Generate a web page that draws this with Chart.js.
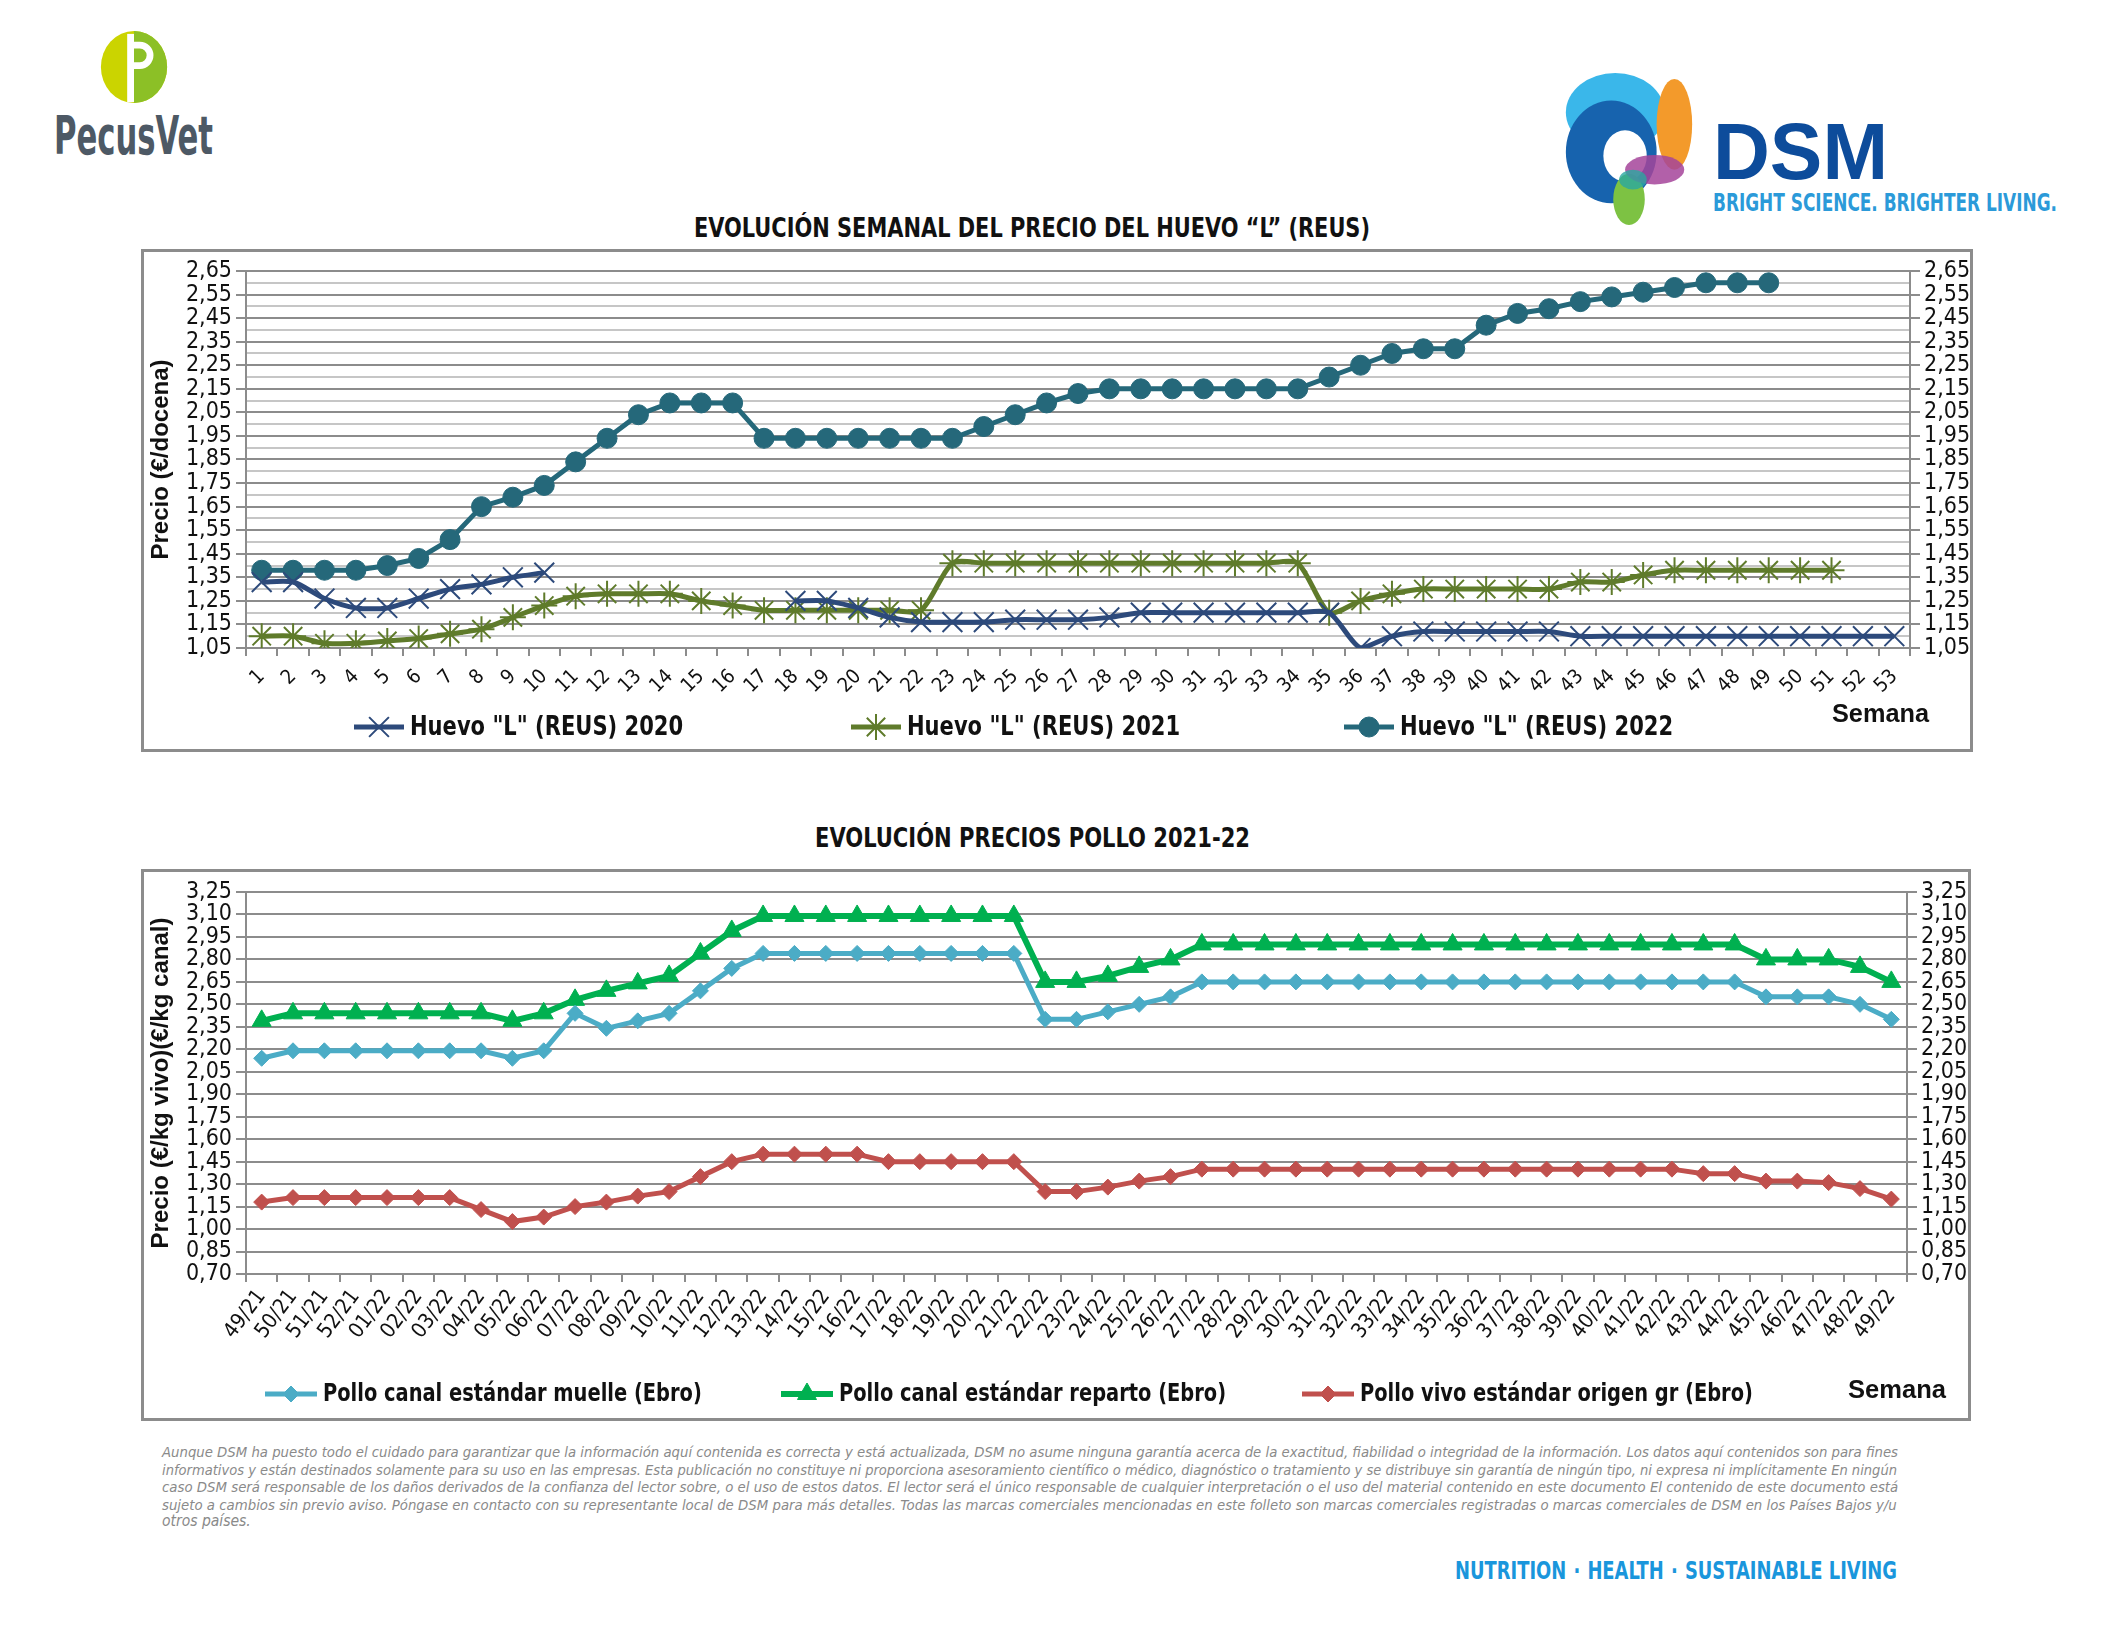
<!DOCTYPE html>
<html>
<head>
<meta charset="utf-8">
<script src="https://cdn.jsdelivr.net/npm/chart.js@4.4.1/dist/chart.umd.min.js"></script>
<style>
  body { margin:0; width:2112px; height:1632px; background:#fff; position:relative; overflow:hidden;
         font-family:"Liberation Sans Narrow","DejaVu Sans Condensed","Liberation Sans",sans-serif; color:#111; }
  .marco { position:absolute; border:3px solid #8c8c8c; box-sizing:border-box; }
  .marco .lienzo { position:absolute; left:0; top:0; right:0; bottom:0; }
  .txt { position:absolute; white-space:nowrap; transform-origin:0 50%; }
  .titulo { font-weight:bold; font-size:26px; }
  .semana { font-family:"Liberation Sans","DejaVu Sans",sans-serif; font-weight:bold; font-size:25px; }
  .aviso { position:absolute; left:162px; top:1443px; width:1737px; color:#8a8a8a; font-style:italic; font-size:15.5px; line-height:17.5px; }
  .aviso div { white-space:nowrap; }
  .lema { color:#1a96dc; font-weight:bold; font-size:25px; }
  .lema span { margin:0 9px; }
</style>
</head>
<body>

<!-- logos -->
<svg style="position:absolute;left:94px;top:30px" width="80" height="74" viewBox="0 0 80 76">
  <ellipse cx="40" cy="38" rx="34" ry="37" fill="#cbd400"/>
  <path d="M40 1 A34 37 0 0 1 40 75 Z" fill="#8cc026"/>
  <rect x="33" y="4" width="7" height="70" fill="#fff"/>
  <path d="M40 12 h6 a14 14 0 0 1 0 28 h-6 v-7 h6 a7 7 0 0 0 0 -14 h-6 z" fill="#fff"/>
</svg>
<div class="txt" data-ancho="159" style="left:54px;top:104px;font-weight:bold;font-size:54px;color:#4d5965">PecusVet</div>

<svg style="position:absolute;left:1556px;top:67px" width="148" height="158" viewBox="0 0 150 160">
  <ellipse cx="60" cy="46" rx="50" ry="40" fill="#3ab7ea"/>
  <ellipse cx="120" cy="58" rx="18" ry="46" fill="#f39a2b"/>
  <ellipse cx="56" cy="86" rx="46" ry="52" fill="#1763ae"/>
  <ellipse cx="70" cy="90" rx="22" ry="26" fill="#fff"/>
  <ellipse cx="74" cy="134" rx="16" ry="26" fill="#7dc243"/>
  <ellipse cx="100" cy="104" rx="30" ry="15" fill="#a4449a" opacity="0.85"/>
  <ellipse cx="78" cy="114" rx="14" ry="10" fill="#2aa7a0" opacity="0.8"/>
</svg>
<div class="txt" data-ancho="175" style="left:1713px;top:106px;font-family:'Liberation Sans',sans-serif;font-weight:bold;font-size:80px;color:#0d4c9b">DSM</div>
<div class="txt" data-ancho="344" style="left:1713px;top:189px;font-weight:bold;font-size:24px;color:#2b9ad9">BRIGHT SCIENCE. BRIGHTER LIVING.</div>

<!-- grafico huevo -->
<div class="txt titulo" data-ancho="676" style="left:694px;top:213px">EVOLUCIÓN SEMANAL DEL PRECIO DEL HUEVO “L” (REUS)</div>
<div class="marco" style="left:141px;top:249px;width:1832px;height:503px">
  <div class="lienzo"><canvas id="graficoHuevo"></canvas></div>
</div>
<div class="txt semana" data-ancho="97" style="left:1832px;top:699px">Semana</div>

<!-- grafico pollo -->
<div class="txt titulo" data-ancho="435" style="left:815px;top:823px">EVOLUCIÓN PRECIOS POLLO 2021-22</div>
<div class="marco" style="left:141px;top:869px;width:1830px;height:552px">
  <div class="lienzo"><canvas id="graficoPollo"></canvas></div>
</div>
<div class="txt semana" data-ancho="98" style="left:1848px;top:1375px">Semana</div>

<div class="aviso" id="aviso">
  <div>Aunque DSM ha puesto todo el cuidado para garantizar que la información aquí contenida es correcta y está actualizada, DSM no asume ninguna garantía acerca de la exactitud, fiabilidad o integridad de la información. Los datos aquí contenidos son para fines</div>
  <div>informativos y están destinados solamente para su uso en las empresas. Esta publicación no constituye ni proporciona asesoramiento científico o médico, diagnóstico o tratamiento y se distribuye sin garantía de ningún tipo, ni expresa ni implícitamente En ningún</div>
  <div>caso DSM será responsable de los daños derivados de la confianza del lector sobre, o el uso de estos datos. El lector será el único responsable de cualquier interpretación o el uso del material contenido en este documento El contenido de este documento está</div>
  <div>sujeto a cambios sin previo aviso. Póngase en contacto con su representante local de DSM para más detalles. Todas las marcas comerciales mencionadas en este folleto son marcas comerciales registradas o marcas comerciales de DSM en los Países Bajos y/u</div>
  <div class="ultima">otros países.</div>
</div>
<div class="txt lema" data-ancho="442" style="left:1455px;top:1556px">NUTRITION<span>·</span>HEALTH<span>·</span>SUSTAINABLE LIVING</div>

<script>
// ---- datos: huevo (€/docena) por semana ----
const semanasHuevo = ['1','2','3','4','5','6','7','8','9','10','11','12','13','14','15','16','17','18','19','20',
  '21','22','23','24','25','26','27','28','29','30','31','32','33','34','35','36','37','38','39','40',
  '41','42','43','44','45','46','47','48','49','50','51','52','53'];

const huevo2020 = [1.33,1.33,1.26,1.22,1.22,1.26,1.30,1.32,1.35,1.37,
  null,null,null,null,null,null,null,
  1.25,1.25,1.22,1.18,1.16,1.16,1.16,1.17,1.17,1.17,1.18,
  1.20,1.20,1.20,1.20,1.20,1.20,1.20,1.05,1.10,
  1.12,1.12,1.12,1.12,1.12,
  1.10,1.10,1.10,1.10,1.10,1.10,1.10,1.10,1.10,1.10,1.10];

const huevo2021 = [1.10,1.10,1.07,1.07,1.08,1.09,1.11,1.13,1.18,1.23,
  1.27,1.28,1.28,1.28,1.25,1.23,1.21,1.21,1.21,1.21,1.21,1.21,
  1.41,1.41,1.41,1.41,1.41,1.41,1.41,1.41,1.41,1.41,1.41,1.41,
  1.20,1.25,1.28,1.30,1.30,1.30,1.30,1.30,1.33,1.33,1.36,
  1.38,1.38,1.38,1.38,1.38,1.38];

const huevo2022 = [1.38,1.38,1.38,1.38,1.40,1.43,1.51,1.65,1.69,1.74,
  1.84,1.94,2.04,2.09,2.09,2.09,
  1.94,1.94,1.94,1.94,1.94,1.94,1.94,
  1.99,2.04,2.09,2.13,
  2.15,2.15,2.15,2.15,2.15,2.15,2.15,
  2.20,2.25,2.30,2.32,2.32,2.42,2.47,2.49,2.52,2.54,2.56,2.58,2.60,2.60,2.60];

// ---- datos: pollo (€/kg) por semana ----
const semanasPollo = ['49/21','50/21','51/21','52/21','01/22','02/22','03/22','04/22','05/22','06/22',
  '07/22','08/22','09/22','10/22','11/22','12/22','13/22','14/22','15/22','16/22','17/22','18/22',
  '19/22','20/22','21/22','22/22','23/22','24/22','25/22','26/22','27/22','28/22','29/22','30/22',
  '31/22','32/22','33/22','34/22','35/22','36/22','37/22','38/22','39/22','40/22','41/22','42/22',
  '43/22','44/22','45/22','46/22','47/22','48/22','49/22'];

const polloMuelle = [2.14,2.19,2.19,2.19,2.19,2.19,2.19,2.19,2.14,2.19,
  2.44,2.34,2.39,2.44,2.59,2.74,
  2.84,2.84,2.84,2.84,2.84,2.84,2.84,2.84,2.84,
  2.40,2.40,2.45,2.50,2.55,
  2.65,2.65,2.65,2.65,2.65,2.65,2.65,2.65,2.65,2.65,2.65,2.65,2.65,2.65,2.65,2.65,2.65,2.65,
  2.55,2.55,2.55,2.50,2.40];

const polloReparto = [2.39,2.44,2.44,2.44,2.44,2.44,2.44,2.44,2.39,2.44,
  2.53,2.59,2.64,2.69,2.84,2.99,
  3.09,3.09,3.09,3.09,3.09,3.09,3.09,3.09,3.09,
  2.65,2.65,2.69,2.75,2.80,
  2.90,2.90,2.90,2.90,2.90,2.90,2.90,2.90,2.90,2.90,2.90,2.90,2.90,2.90,2.90,2.90,2.90,2.90,
  2.80,2.80,2.80,2.75,2.65];

const polloVivo = [1.18,1.21,1.21,1.21,1.21,1.21,1.21,1.13,1.05,1.08,
  1.15,1.18,1.22,1.25,1.35,1.45,
  1.50,1.50,1.50,1.50,1.45,1.45,1.45,1.45,1.45,
  1.25,1.25,1.28,1.32,1.35,
  1.40,1.40,1.40,1.40,1.40,1.40,1.40,1.40,1.40,1.40,1.40,1.40,1.40,1.40,1.40,1.40,
  1.37,1.37,1.32,1.32,1.31,1.27,1.20];

const ticksHuevo = { min: 1.05, max: 2.65, paso: 0.05 };
const ticksPollo = { min: 0.70, max: 3.25, paso: 0.15 };

// ---- estilo general ----
const fuenteEstrecha = "'Liberation Sans Narrow', 'DejaVu Sans Condensed', 'Liberation Sans', sans-serif";
Chart.defaults.font.family = fuenteEstrecha;
Chart.defaults.color = '#111';
const gris = '#8c8c8c';
const grisClaro = '#c6c6c6';

function coma(v) { return v.toFixed(2).replace('.', ','); }

// leyenda estilo Excel: linea con marcador en medio y texto a la derecha
const leyendaLinea = {
  id: 'leyendaLinea',
  afterDraw(chart, args, opts) {
    const ctx = chart.ctx;
    chart.data.datasets.forEach(function (ds, i) {
      const x0 = opts.x[i];
      const y = opts.y;
      ctx.save();
      ctx.strokeStyle = ds.borderColor;
      ctx.lineWidth = ds.borderWidth;
      ctx.beginPath();
      ctx.moveTo(x0, y);
      ctx.lineTo(x0 + opts.largo, y);
      ctx.stroke();
      ctx.fillStyle = ds.pointBackgroundColor;
      ctx.strokeStyle = ds.pointBorderColor;
      ctx.lineWidth = ds.pointBorderWidth;
      Chart.helpers.drawPoint(ctx, { pointStyle: ds.pointStyle, radius: ds.pointRadius, borderWidth: ds.pointBorderWidth, rotation: 0 },
        x0 + opts.largo / 2, y);
      ctx.translate(x0 + opts.largo + 6, y + 1);
      ctx.scale(0.9, 1);
      ctx.fillStyle = '#111';
      ctx.font = 'bold ' + opts.tam + 'px ' + fuenteEstrecha;
      ctx.textBaseline = 'middle';
      ctx.fillText(ds.label, 0, 0);
      ctx.restore();
    });
  }
};

function ejeY(t, lado, ancho, titulo, etiqueta, colorGrid) {
  const eje = {
    position: lado,
    min: t.min, max: t.max,
    ticks: { stepSize: t.paso, autoSkip: false, font: { size: 23 }, color: '#111', padding: 4, callback: etiqueta },
    grid: { drawOnChartArea: lado === 'left', lineWidth: 2, tickLength: 10, color: colorGrid,
            tickColor: function (c) { return etiqueta(c.tick ? c.tick.value : t.min) === '' ? 'rgba(0,0,0,0)' : gris; } },
    border: { display: true, color: gris, width: 2 },
    afterFit: function (s) { s.width = ancho; }
  };
  if (titulo) {
    eje.title = { display: true, text: titulo, padding: { top: 3, bottom: 0 },
                  font: { size: 24, weight: 'bold', family: "'Liberation Sans', 'DejaVu Sans', sans-serif" } };
  }
  return eje;
}

function ejeX(rotacion, alto, tam, separacion) {
  return {
    offset: true,
    grid: { offset: true, drawOnChartArea: false, tickLength: 8, color: gris, lineWidth: 2 },
    border: { display: true, color: gris, width: 2 },
    ticks: { autoSkip: false, minRotation: rotacion, maxRotation: rotacion, font: { size: tam }, padding: separacion },
    afterFit: function (s) { s.height = alto; }
  };
}

// ---- grafico huevo ----
function etiquetaHuevo(v) {
  const k = Math.round((v - ticksHuevo.min) / ticksHuevo.paso);
  return k % 2 === 0 ? coma(v) : '';
}
function gridHuevo(c) {
  const k = c.tick ? Math.round((c.tick.value - ticksHuevo.min) / ticksHuevo.paso) : 0;
  return k % 2 === 0 ? gris : grisClaro;
}

const azul2020 = '#2d4a7b', verde2021 = '#5f7b2b', teal2022 = '#25687a';

new Chart(document.getElementById('graficoHuevo'), {
  type: 'line',
  data: {
    labels: semanasHuevo,
    datasets: [
      { label: 'Huevo "L" (REUS) 2020', data: huevo2020, borderColor: azul2020, borderWidth: 5, tension: 0.25,
        pointStyle: 'crossRot', pointRadius: 14, pointBorderWidth: 2, pointBorderColor: azul2020, pointBackgroundColor: azul2020 },
      { label: 'Huevo "L" (REUS) 2021', data: huevo2021, borderColor: verde2021, borderWidth: 5, tension: 0.25,
        pointStyle: 'star', pointRadius: 13, pointBorderWidth: 2, pointBorderColor: verde2021, pointBackgroundColor: verde2021 },
      { label: 'Huevo "L" (REUS) 2022', data: huevo2022, borderColor: teal2022, borderWidth: 5, tension: 0,
        pointStyle: 'circle', pointRadius: 10, pointBorderWidth: 1, pointBorderColor: teal2022, pointBackgroundColor: teal2022 }
    ]
  },
  options: {
    responsive: true, maintainAspectRatio: false, animation: false,
    layout: { padding: { top: 19, left: 0, right: 0, bottom: 0 } },
    plugins: { legend: { display: false }, tooltip: { enabled: false },
               leyendaLinea: { x: [210, 707, 1200], y: 475, largo: 50, tam: 26 } },
    scales: {
      x: ejeX(45, 101, 20, 9),
      y: ejeY(ticksHuevo, 'left', 102, 'Precio (€/docena)', etiquetaHuevo, gridHuevo),
      y2: ejeY(ticksHuevo, 'right', 60, null, etiquetaHuevo, gridHuevo)
    }
  },
  plugins: [leyendaLinea]
});

// ---- grafico pollo ----
function etiquetaPollo(v) { return coma(v); }
const azulMuelle = '#4bacc6', verdeReparto = '#00b050', rojoVivo = '#c0504d';

new Chart(document.getElementById('graficoPollo'), {
  type: 'line',
  data: {
    labels: semanasPollo,
    datasets: [
      { label: 'Pollo canal estándar muelle (Ebro)', data: polloMuelle, borderColor: azulMuelle, borderWidth: 5,
        pointStyle: 'rectRot', pointRadius: 8, pointBorderWidth: 1, pointBorderColor: azulMuelle, pointBackgroundColor: azulMuelle },
      { label: 'Pollo canal estándar reparto (Ebro)', data: polloReparto, borderColor: verdeReparto, borderWidth: 6,
        pointStyle: 'triangle', pointRadius: 11, pointBorderWidth: 1, pointBorderColor: verdeReparto, pointBackgroundColor: verdeReparto },
      { label: 'Pollo vivo estándar origen gr (Ebro)', data: polloVivo, borderColor: rojoVivo, borderWidth: 5,
        pointStyle: 'rectRot', pointRadius: 8, pointBorderWidth: 1, pointBorderColor: rojoVivo, pointBackgroundColor: rojoVivo }
    ]
  },
  options: {
    responsive: true, maintainAspectRatio: false, animation: false,
    layout: { padding: { top: 20, left: 0, right: 0, bottom: 0 } },
    plugins: { legend: { display: false }, tooltip: { enabled: false },
               leyendaLinea: { x: [121, 637, 1158], y: 522, largo: 52, tam: 24 } },
    scales: {
      x: ejeX(53, 144, 21, 3),
      y: ejeY(ticksPollo, 'left', 102, 'Precio (€/kg vivo)(€/kg canal)', etiquetaPollo, gris),
      y2: ejeY(ticksPollo, 'right', 61, null, etiquetaPollo, gris)
    }
  },
  plugins: [leyendaLinea]
});

// textos de pagina: comprimir en horizontal hasta el ancho del original
document.querySelectorAll('.txt[data-ancho]').forEach(function (el) {
  const natural = el.getBoundingClientRect().width;
  el.style.transform = 'scaleX(' + (parseFloat(el.dataset.ancho) / natural) + ')';
});

// justificar las lineas del aviso legal
const anchoAviso = 1737;
document.querySelectorAll('#aviso div').forEach(function (d) {
  if (d.classList.contains('ultima')) return;
  const espacios = (d.textContent.match(/ /g) || []).length;
  const natural = d.scrollWidth;
  if (natural > anchoAviso) {
    d.style.fontSize = (15.5 * anchoAviso / natural) + 'px';
  } else {
    d.style.wordSpacing = ((anchoAviso - natural) / espacios) + 'px';
  }
});
</script>
</body>
</html>
